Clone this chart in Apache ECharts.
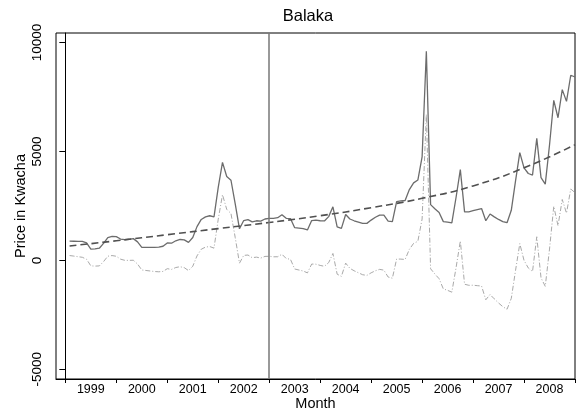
<!DOCTYPE html>
<html><head><meta charset="utf-8">
<script src="https://cdn.jsdelivr.net/npm/echarts@6/dist/echarts.min.js"></script>
<style>html,body{margin:0;padding:0;background:#fff}#c{width:578px;height:412px}</style>
</head><body><div id="c"></div>
<script>
// Month index: 0 = January 1999
const years = ['1999','2000','2001','2002','2003','2004','2005','2006','2007','2008'];
const firstMonth = 1;
const price = [
 885,880,875,870,800,520,530,560,780,1050,1100,1090,
 980,950,970,1000,850,600,600,600,600,610,650,800,
 790,900,960,940,830,1050,1550,1880,2000,2050,2000,3350,
 4500,3850,3680,2600,1450,1830,1870,1770,1820,1800,1900,1930,
 1930,1960,2100,1930,1920,1500,1480,1460,1400,1830,1850,1820,
 1810,2010,2460,1540,1470,2110,1900,1820,1760,1700,1700,1850,
 1980,2080,2080,1800,1780,2700,2730,2750,3250,3560,3690,4750,
 9600,2560,2370,2200,1780,1760,1725,2900,4170,2230,2230,2280,
 2330,2380,1820,2130,2000,1880,1780,1730,2300,3650,4950,4250,
 3990,3920,5600,3800,3500,5300,7350,6550,7840,7300,8500,8420
];
const deviation = [
 223,197,170,143,52,-250,-262,-253,-55,193,222,190,
 57,3,0,7,-167,-440,-463,-487,-510,-523,-507,-380,
 -413,-327,-290,-333,-467,-270,207,513,610,637,563,1890,
 3017,2343,2150,1047,-127,230,247,123,150,107,183,190,
 164,168,282,87,51,-395,-441,-487,-573,-168,-174,-230,
 -271,-102,318,-633,-734,-125,-366,-477,-568,-658,-689,-570,
 -476,-412,-448,-763,-819,65,59,43,507,782,876,1900,
 6702,-385,-623,-840,-1308,-1375,-1458,-330,892,-1095,-1143,-1140,
 -1159,-1178,-1808,-1567,-1766,-1955,-2124,-2243,-1743,-462,769,0,
 -348,-507,1085,-803,-1192,520,2482,1593,2795,2167,3278,3110
];
const trendMonths = [1,12,24,36,48,60,72,84,96,108,120];
const trendValues = [662,900,1180,1460,1740,2050,2420,2850,3420,4250,5310];
const yTicks = [-5000,0,5000,10000];
const breakMonth = 48;

const font = 'Liberation Sans, Arial, sans-serif';
const yearStarts = years.map((y,i)=>i*12).concat([years.length*12]);
const yearMids = years.map((y,i)=>i*12+6);

const chart = echarts.init(document.getElementById('c'), null, {renderer:'canvas'});
chart.setOption({
  animation:false,
  backgroundColor:'#fff',
  title:{text:'Balaka', left:303, top:3, textAlign:'center',
    textStyle:{fontFamily:font, fontSize:16.5, fontWeight:'normal', color:'#000'}},
  grid:{left:56, right:3, top:33, bottom:33, outerBoundsMode:'none', containLabel:false,
    show:true, borderColor:'#000', borderWidth:1, backgroundColor:'#fff'},
  xAxis:{type:'value', min:-2.2, max:120,
    splitLine:{show:false},
    axisLine:{show:true, onZero:false, lineStyle:{color:'#000', width:1}},
    axisTick:{show:true, customValues:yearStarts, length:4, lineStyle:{color:'#000'}},
    axisLabel:{customValues:yearMids, formatter:v=>years[Math.round((v-6)/12)], color:'#000', fontSize:12.5, fontFamily:font, margin:4},
    name:'Month', nameLocation:'middle', nameGap:17, nameMoveOverlap:false,
    nameTextStyle:{fontFamily:font, fontSize:14.5, color:'#000'}
  },
  yAxis:{type:'value', min:-5445, max:10440,
    splitLine:{show:false},
    axisLine:{show:true, lineStyle:{color:'#000', width:1}},
    axisTick:{show:true, customValues:yTicks, length:6, lineStyle:{color:'#000'}},
    axisLabel:{customValues:yTicks, rotate:90, formatter:v=>String(v), color:'#000', fontSize:13.5, fontFamily:font, margin:12},
    name:'Price in Kwacha', nameLocation:'middle', nameRotate:90, nameGap:28, nameMoveOverlap:false,
    nameTextStyle:{fontFamily:font, fontSize:14.5, color:'#000'}
  },
  series:[
    {type:'line', name:'deviation', data:deviation.map((v,i)=>[i+firstMonth,v]), showSymbol:false, z:2,
      lineStyle:{color:'#a9a9a9', width:1, type:[5,2,1,2]}},
    {type:'line', name:'price', data:price.map((v,i)=>[i+firstMonth,v]), showSymbol:false, z:3,
      lineStyle:{color:'#6c6c6c', width:1.3},
      markLine:{symbol:'none', silent:true, label:{show:false},
        lineStyle:{color:'#777', width:1.5, type:'solid'}, data:[{xAxis:breakMonth}]}},
    {type:'line', name:'trend', data:trendMonths.map((m,i)=>[m,trendValues[i]]), showSymbol:false, smooth:true, z:4,
      lineStyle:{color:'#505050', width:1.6, type:[7,4]}}
  ]
});
</script></body></html>
